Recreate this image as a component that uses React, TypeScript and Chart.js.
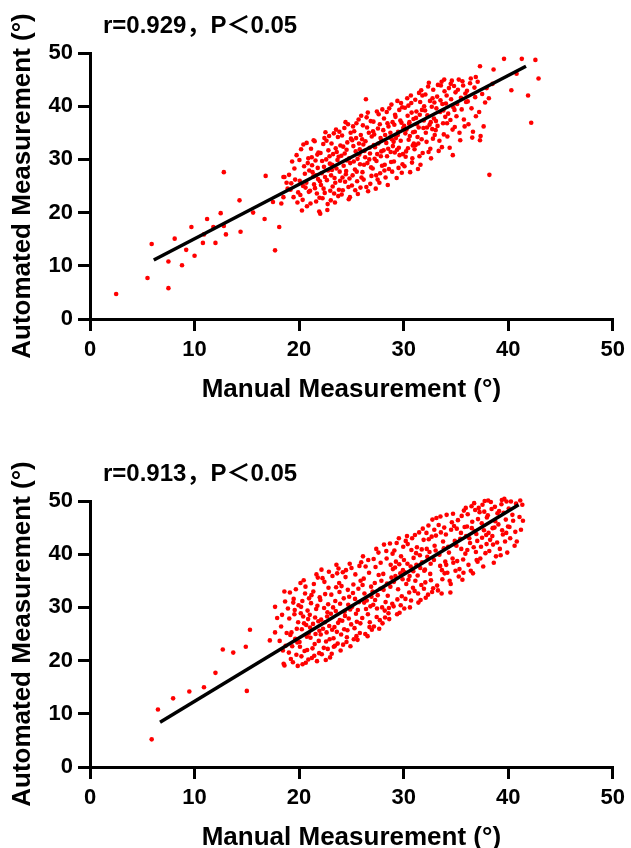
import React, { useEffect, useRef } from 'react';
import { Chart, registerables } from 'chart.js';

Chart.register(...registerables);

const FONT = "'Liberation Sans', Arial, 'Noto Sans CJK SC', sans-serif";

const xAxisTitle = 'Manual Measurement (°)';
const yAxisTitle = 'Automated Measurement (°)';
const axisMin = 0;
const axisMax = 50;
const axisStep = 10;

const labelA = 'r=0.929，P＜0.05';
const labelB = 'r=0.913，P＜0.05';

// Panel A: [manual, automated]
const sparseA: [number, number][] = [
  [2.5, 4.7], [5.5, 7.7], [5.9, 14.1], [7.5, 5.8], [7.5, 10.8], [8.1, 15.1], [8.8, 10.1], [9.2, 13.0], [9.7, 17.3], [10.0, 11.9],
  [10.8, 14.3], [10.9, 15.9], [11.2, 18.8], [11.8, 17.3], [12.0, 14.3], [12.5, 19.9], [12.8, 17.5], [13.0, 15.9], [14.3, 22.3], [14.4, 16.4],
  [15.6, 20.0], [16.7, 18.8], [17.5, 22.0], [17.7, 12.9], [18.1, 17.3], [18.3, 21.7], [18.5, 22.9], [12.8, 27.6], [16.8, 26.9], [18.5, 26.7],
  [18.6, 26.7], [18.9, 24.5], [18.8, 25.6],
];
const cloudA: [number, number][] = [
  [19.04, 27.1], [19.18, 24.3], [19.33, 29.6], [19.47, 22.9], [19.62, 26.2], [19.76, 30.8], [19.91, 23.8], [19.25, 25.5], [19.55, 28.3], [19.84, 21.9],
  [20.06, 26.0], [20.19, 31.9], [20.34, 22.4], [20.48, 28.7], [20.61, 24.7], [20.75, 21.2], [20.88, 30.2], [20.12, 23.3], [20.41, 32.8], [20.55, 27.3],
  [20.69, 25.6], [20.83, 29.3], [20.27, 20.4], [20.97, 27.9], [20.03, 29.9], [20.38, 25.0], [20.72, 33.1], [20.93, 23.9],
  [21.05, 24.1], [21.21, 30.4], [21.36, 26.8], [21.49, 33.4], [21.63, 22.1], [21.78, 28.4], [21.92, 20.2], [21.14, 32.0], [21.43, 25.3], [21.57, 29.8],
  [21.70, 23.6], [21.85, 31.3], [21.29, 27.6], [21.99, 25.9], [21.09, 21.7], [21.39, 33.6], [21.60, 27.0], [21.74, 30.9], [21.95, 22.8], [21.24, 28.9],
  [21.52, 24.6], [21.81, 26.3],
  [22.02, 19.8], [22.16, 27.4], [22.31, 32.9], [22.45, 23.7], [22.59, 30.0], [22.73, 21.6], [22.87, 34.4], [22.09, 25.2], [22.38, 28.6], [22.52, 35.1],
  [22.66, 26.1], [22.80, 31.7], [22.24, 22.7], [22.94, 29.2], [22.05, 31.2], [22.34, 24.5], [22.62, 33.5], [22.77, 27.9], [22.98, 24.1], [22.20, 29.7],
  [22.48, 26.7], [22.70, 20.5], [22.91, 30.6], [22.42, 34.0],
  [23.03, 22.3], [23.17, 29.0], [23.32, 34.9], [23.46, 25.6], [23.60, 31.4], [23.74, 23.1], [23.88, 27.7], [23.10, 33.0], [23.39, 26.5], [23.53, 35.6],
  [23.67, 29.9], [23.81, 24.3], [23.25, 31.0], [23.95, 32.6], [23.06, 27.0], [23.35, 23.6], [23.57, 28.3], [23.71, 34.2], [23.92, 26.0], [23.21, 24.9],
  [23.50, 32.1], [23.78, 30.5], [23.43, 21.9], [23.14, 28.0], [23.85, 35.2],
  [24.04, 30.7], [24.18, 24.2], [24.33, 35.9], [24.47, 27.2], [24.61, 33.2], [24.75, 22.5], [24.89, 29.3], [24.11, 34.5], [24.40, 25.8], [24.54, 31.8],
  [24.68, 36.6], [24.82, 26.4], [24.26, 28.8], [24.96, 33.9], [24.07, 23.4], [24.36, 31.1], [24.58, 29.8], [24.72, 24.8], [24.93, 35.0], [24.22, 32.4],
  [24.50, 27.8], [24.79, 30.2], [24.44, 37.0], [24.15, 26.6], [24.86, 22.9],
  [25.05, 25.1], [25.19, 32.5], [25.34, 28.1], [25.48, 36.8], [25.62, 23.5], [25.76, 30.9], [25.90, 34.6], [25.12, 27.0], [25.41, 31.5], [25.55, 25.9],
  [25.69, 37.5], [25.83, 29.1], [25.27, 35.3], [25.97, 26.6], [25.08, 33.6], [25.37, 24.2], [25.59, 30.1], [25.73, 33.0], [25.94, 38.2], [25.23, 29.6],
  [25.51, 27.7], [25.80, 31.9], [25.45, 34.0], [25.16, 36.2], [25.87, 24.7],
  [26.03, 33.8], [26.17, 26.2], [26.32, 30.4], [26.46, 37.9], [26.60, 24.0], [26.74, 32.2], [26.88, 28.5], [26.10, 36.4], [26.39, 41.3], [26.53, 29.3],
  [26.67, 35.0], [26.81, 25.4], [26.25, 31.6], [26.95, 34.3], [26.06, 27.6], [26.35, 33.4], [26.57, 38.8], [26.71, 30.0], [26.92, 26.9], [26.21, 29.0],
  [26.50, 36.0], [26.78, 31.1], [26.43, 24.8], [26.14, 32.8], [26.85, 37.2],
  [27.04, 28.3], [27.18, 34.7], [27.33, 24.5], [27.47, 31.0], [27.61, 38.5], [27.75, 27.4], [27.89, 33.6], [27.11, 37.1], [27.40, 29.7], [27.54, 35.8],
  [27.68, 25.6], [27.82, 30.6], [27.26, 32.3], [27.96, 39.4], [27.07, 35.3], [27.37, 27.0], [27.58, 33.0], [27.72, 36.6], [27.93, 28.8], [27.22, 30.1],
  [27.51, 26.2], [27.79, 34.0], [27.44, 39.0], [27.15, 32.7], [27.86, 31.5],
  [28.05, 35.5], [28.19, 29.0], [28.34, 33.1], [28.48, 25.2], [28.62, 39.6], [28.76, 31.4], [28.90, 27.7], [28.12, 37.7], [28.41, 30.6], [28.55, 36.2],
  [28.69, 34.1], [28.83, 40.3], [28.27, 26.6], [28.97, 32.5], [28.08, 31.7], [28.38, 38.9], [28.59, 28.2], [28.73, 35.0], [28.94, 37.0], [28.23, 34.6],
  [28.52, 32.0], [28.80, 29.5], [28.45, 36.8], [28.16, 27.9], [28.87, 33.8],
  [29.04, 33.3], [29.18, 38.4], [29.33, 26.5], [29.47, 35.2], [29.61, 30.8], [29.75, 40.6], [29.89, 29.1], [29.11, 36.5], [29.40, 41.0], [29.54, 32.2],
  [29.68, 37.3], [29.82, 27.5], [29.26, 34.0], [29.96, 35.9], [29.07, 29.6], [29.37, 31.8], [29.58, 39.3], [29.72, 33.5], [29.93, 31.0], [29.22, 38.0],
  [29.51, 28.4], [29.79, 36.9], [29.44, 34.6], [29.15, 31.3], [29.86, 39.8],
  [30.05, 36.3], [30.19, 30.5], [30.34, 41.5], [30.48, 33.7], [30.62, 27.6], [30.76, 38.8], [30.90, 35.1], [30.12, 39.7], [30.41, 32.1], [30.55, 37.0],
  [30.69, 42.0], [30.83, 30.2], [30.27, 35.6], [30.97, 33.0], [30.08, 28.7], [30.38, 38.2], [30.59, 34.4], [30.73, 40.6], [30.94, 37.6], [30.23, 31.5],
  [30.52, 36.7], [30.80, 29.4], [30.45, 40.1], [30.16, 34.9], [30.87, 32.6],
  [31.04, 31.9], [31.18, 37.8], [31.33, 34.2], [31.47, 42.5], [31.61, 29.0], [31.75, 39.3], [31.89, 35.9], [31.11, 41.2], [31.40, 33.0], [31.54, 38.4],
  [31.68, 43.0], [31.82, 31.2], [31.26, 36.6], [31.96, 40.0], [31.07, 35.2], [31.37, 28.2], [31.58, 40.8], [31.72, 33.8], [31.93, 37.3], [31.22, 39.0],
  [31.51, 30.6], [31.79, 42.0], [31.44, 36.0], [31.15, 32.7],
  [32.05, 39.2], [32.19, 33.3], [32.34, 43.7], [32.48, 36.5], [32.62, 30.2], [32.76, 41.5], [32.90, 37.7], [32.12, 35.0], [32.41, 44.4], [32.55, 32.0],
  [32.69, 39.9], [32.83, 43.1], [32.27, 38.3], [32.97, 34.6], [32.08, 42.2], [32.38, 31.4], [32.59, 37.0], [32.73, 35.7], [32.94, 40.7], [32.23, 36.0],
  [32.52, 41.0], [32.80, 33.9],
  [33.06, 35.5], [33.20, 41.8], [33.35, 31.6], [33.49, 38.9], [33.63, 44.6], [33.77, 36.8], [33.91, 42.8], [33.13, 39.6], [33.42, 33.5], [33.56, 43.9],
  [33.70, 40.4], [33.84, 34.7], [33.28, 44.0], [33.98, 38.0], [33.09, 37.2], [33.52, 41.1], [33.66, 32.3], [33.88, 45.0], [33.24, 36.3], [33.80, 39.2],
  [34.04, 40.5], [34.18, 34.3], [34.33, 43.4], [34.47, 37.4], [34.61, 44.8], [34.75, 39.8], [34.89, 36.1], [34.11, 42.0], [34.40, 32.2], [34.54, 41.3],
  [34.68, 35.6], [34.82, 43.8], [34.26, 38.6], [34.96, 42.6], [34.70, 30.8], [34.50, 44.2], [34.15, 36.8], [34.86, 39.3],
  [35.05, 38.1], [35.19, 43.1], [35.34, 35.0], [35.48, 41.6], [35.62, 44.7], [35.76, 37.5], [35.90, 42.4], [35.12, 40.4], [35.41, 33.6], [35.55, 39.4],
  [35.69, 43.9], [35.83, 36.2], [35.27, 45.0], [35.97, 40.8],
  [36.06, 42.9], [36.20, 36.6], [36.35, 44.3], [36.49, 39.6], [36.63, 35.2], [36.77, 43.5], [36.91, 38.1], [36.13, 40.9], [36.42, 45.2], [36.84, 41.7],
  [36.56, 34.1],
  [37.08, 44.6], [37.22, 38.9], [37.36, 34.4], [37.51, 42.3], [37.65, 36.2], [37.79, 40.7], [37.94, 43.4], [38.15, 41.5], [37.30, 33.6],
];
const outliersA: [number, number][] = [
  [37.3, 47.5], [38.6, 46.9], [39.6, 48.9], [40.5, 50.5], [41.1, 51.9], [41.3, 48.9], [42.6, 48.7], [40.8, 46.1], [42.9, 45.2], [40.3, 43.0],
  [41.9, 42.0], [42.2, 36.9], [38.2, 27.1], [36.9, 45.5], [38.5, 44.2],
];
const fitManualA = [6.1, 41.7];
const fitAutomatedA = [11.1, 47.5];

// Panel B: [manual, automated]
const sparseB: [number, number][] = [
  [5.9, 5.2], [6.5, 10.8], [7.95, 12.9], [9.5, 14.2], [10.9, 15.0], [12.0, 17.7], [12.7, 22.1], [13.7, 21.5], [14.9, 22.6], [15.0, 14.3],
  [15.3, 25.8], [17.2, 23.8], [17.7, 25.3], [17.7, 30.1], [18.6, 19.1], [17.9, 28.0],
];
const cloudB: [number, number][] = [
  [18.14, 23.7], [18.37, 28.6], [18.52, 19.4], [18.66, 31.1], [18.81, 25.2], [18.45, 21.9], [18.93, 29.8], [18.28, 26.4], [18.71, 22.8], [18.59, 33.0],
  [19.06, 27.9], [19.21, 20.3], [19.48, 31.6], [19.63, 24.1], [19.87, 19.0], [19.12, 32.8], [19.34, 22.7], [19.55, 28.7], [19.78, 26.0], [19.95, 30.4],
  [19.27, 25.3], [19.41, 19.7], [19.69, 33.4], [19.83, 23.4], [19.02, 21.5], [19.58, 29.5], [19.16, 24.8], [19.91, 27.2], [19.44, 30.9], [19.74, 21.1],
  [20.08, 22.6], [20.19, 30.1], [20.33, 19.3], [20.47, 27.0], [20.61, 33.9], [20.74, 24.5], [20.88, 20.2], [20.95, 31.7], [20.26, 25.9], [20.52, 21.8],
  [20.13, 34.6], [20.39, 28.3], [20.68, 26.7], [20.81, 29.4], [20.04, 23.5], [20.57, 32.6], [20.22, 20.8], [20.91, 25.1], [20.44, 35.1], [20.77, 22.0],
  [20.31, 31.2], [20.64, 19.6], [20.86, 27.8], [20.16, 28.9],
  [21.05, 26.2], [21.22, 20.5], [21.36, 33.0], [21.49, 23.1], [21.63, 29.7], [21.79, 35.6], [21.92, 21.4], [21.14, 30.8], [21.57, 25.0], [21.84, 27.4],
  [21.28, 22.3], [21.41, 34.4], [21.71, 19.9], [21.97, 31.9], [21.09, 24.3], [21.53, 28.1], [21.66, 36.2], [21.33, 26.9], [21.88, 23.7], [21.18, 32.3],
  [21.75, 30.3], [21.45, 20.9], [21.02, 28.6], [21.94, 25.6],
  [22.03, 31.4], [22.17, 21.2], [22.29, 26.0], [22.42, 34.8], [22.58, 23.6], [22.71, 29.1], [22.85, 36.7], [22.96, 20.6], [22.11, 27.7], [22.36, 22.4],
  [22.49, 32.5], [22.63, 25.3], [22.78, 30.6], [22.92, 24.0], [22.24, 35.5], [22.55, 20.1], [22.68, 28.3], [22.07, 24.9], [22.81, 33.7], [22.39, 29.9],
  [22.14, 37.1], [22.74, 22.2], [22.47, 27.2], [22.88, 26.5],
  [23.04, 28.8], [23.19, 35.9], [23.32, 22.6], [23.46, 31.2], [23.61, 25.4], [23.77, 37.3], [23.89, 27.6], [23.12, 21.3], [23.54, 33.8], [23.69, 23.2],
  [23.25, 30.0], [23.83, 34.6], [23.38, 26.3], [23.97, 21.9], [23.08, 32.4], [23.51, 29.3], [23.64, 36.4], [23.29, 24.2], [23.92, 30.7], [23.43, 22.8],
  [23.73, 27.1], [23.16, 25.8], [23.57, 38.0], [23.86, 32.9],
  [24.06, 34.0], [24.21, 23.0], [24.35, 29.2], [24.48, 37.0], [24.62, 25.7], [24.79, 32.0], [24.91, 22.7], [24.13, 27.5], [24.44, 35.7], [24.57, 24.4],
  [24.70, 30.5], [24.84, 38.2], [24.27, 31.7], [24.98, 26.8], [24.02, 24.9], [24.39, 28.4], [24.66, 33.3], [24.88, 29.6], [24.18, 36.6], [24.53, 23.5],
  [24.75, 27.9], [24.31, 25.9],
  [25.07, 30.1], [25.23, 24.0], [25.38, 36.2], [25.52, 27.3], [25.67, 33.5], [25.81, 25.2], [25.94, 38.5], [25.15, 32.7], [25.44, 28.8], [25.59, 23.9],
  [25.73, 31.0], [25.88, 35.0], [25.30, 26.1], [25.01, 37.4], [25.62, 29.5], [25.86, 27.0], [25.19, 34.3], [25.48, 24.6], [25.77, 37.8], [25.35, 31.6],
  [26.04, 28.0], [26.18, 35.4], [26.33, 25.0], [26.47, 31.3], [26.61, 38.9], [26.76, 27.2], [26.89, 33.9], [26.11, 39.6], [26.40, 29.7], [26.55, 24.6],
  [26.69, 36.5], [26.82, 30.2], [26.25, 32.6], [26.96, 25.8], [26.07, 34.2], [26.36, 37.7], [26.58, 28.7], [26.73, 26.3], [26.92, 32.0], [26.22, 30.9],
  [27.03, 33.0], [27.16, 26.4], [27.31, 37.6], [27.45, 29.8], [27.59, 40.3], [27.72, 27.6], [27.87, 35.0], [27.09, 30.5], [27.38, 41.0], [27.52, 32.3],
  [27.66, 26.0], [27.80, 38.4], [27.24, 34.6], [27.94, 30.0], [27.13, 39.1], [27.42, 28.2], [27.61, 36.1], [27.77, 33.5], [27.98, 27.0], [27.27, 31.4],
  [28.05, 36.3], [28.19, 29.4], [28.34, 40.6], [28.48, 32.2], [28.62, 27.8], [28.76, 38.0], [28.91, 30.7], [28.12, 41.8], [28.41, 34.5], [28.55, 28.9],
  [28.69, 42.0], [28.83, 35.6], [28.27, 31.0], [28.97, 37.2], [28.08, 33.3], [28.37, 39.2], [28.59, 29.9], [28.73, 33.9], [28.94, 40.1], [28.22, 28.1],
  [29.04, 30.2], [29.18, 37.5], [29.33, 42.1], [29.47, 33.4], [29.61, 29.0], [29.75, 39.6], [29.90, 35.3], [29.11, 40.7], [29.40, 31.5], [29.54, 43.0],
  [29.68, 36.4], [29.82, 32.1], [29.26, 38.6], [29.96, 41.4], [29.07, 34.8], [29.37, 28.7], [29.58, 38.1], [29.72, 30.4], [29.93, 37.0], [29.21, 35.9],
  [30.03, 38.9], [30.17, 31.6], [30.32, 43.4], [30.46, 35.2], [30.60, 30.0], [30.74, 40.8], [30.89, 33.7], [30.10, 36.6], [30.39, 41.9], [30.53, 32.8],
  [30.67, 37.7], [30.81, 43.0], [30.25, 34.4], [30.95, 39.3], [30.06, 29.8], [30.36, 38.2], [30.57, 35.9], [30.71, 31.3], [30.92, 36.8], [30.20, 42.5],
  [31.05, 33.1], [31.19, 40.2], [31.34, 36.0], [31.48, 44.1], [31.62, 31.4], [31.76, 38.5], [31.91, 42.7], [31.12, 35.0], [31.41, 30.9], [31.55, 39.8],
  [31.69, 34.2], [31.83, 44.8], [31.27, 41.3], [31.97, 36.9], [31.08, 43.6], [31.38, 32.6], [31.59, 37.4], [31.73, 40.9], [31.94, 33.5], [31.22, 38.0],
  [32.04, 37.1], [32.18, 44.0], [32.33, 32.4], [32.47, 40.4], [32.61, 35.1], [32.75, 46.5], [32.90, 38.9], [32.11, 31.8], [32.40, 42.8], [32.54, 36.3],
  [32.68, 43.3], [32.82, 33.6], [32.26, 39.5], [32.96, 41.6], [32.07, 34.7], [32.37, 45.4], [32.58, 38.2], [32.72, 32.9], [32.93, 44.6], [32.21, 41.0],
  [33.06, 40.7], [33.20, 34.1], [33.35, 45.5], [33.49, 37.8], [33.63, 32.6], [33.77, 42.4], [33.92, 36.4], [33.13, 46.8], [33.42, 39.9], [33.56, 44.1],
  [33.70, 35.3], [33.84, 41.1], [33.28, 33.2], [33.98, 38.6], [33.09, 43.5], [33.52, 47.1], [33.66, 37.0], [33.88, 45.0],
  [34.04, 43.7], [34.18, 36.5], [34.33, 40.3], [34.47, 32.8], [34.61, 46.0], [34.75, 38.4], [34.89, 42.5], [34.11, 47.4], [34.40, 35.0], [34.54, 44.6],
  [34.68, 39.2], [34.82, 45.3], [34.26, 41.4], [34.96, 36.9], [34.07, 38.0], [34.50, 34.4], [34.72, 47.6], [34.93, 41.8],
  [35.05, 41.6], [35.19, 46.4], [35.34, 37.2], [35.48, 44.0], [35.62, 35.2], [35.76, 48.2], [35.90, 40.1], [35.12, 38.7], [35.41, 42.9], [35.55, 47.2],
  [35.69, 39.0], [35.83, 45.1], [35.27, 35.8], [35.97, 43.4], [35.08, 44.8], [35.51, 41.0], [35.72, 36.5], [35.94, 48.7],
  [36.06, 45.2], [36.20, 38.0], [36.35, 42.1], [36.49, 49.0], [36.63, 36.4], [36.77, 44.3], [36.91, 40.4], [36.13, 47.5], [36.42, 36.9], [36.56, 46.1],
  [36.70, 41.3], [36.84, 48.3], [36.28, 43.0], [36.98, 38.9], [36.09, 40.8], [36.52, 44.9], [36.74, 49.6], [36.95, 43.8],
  [37.04, 42.5], [37.18, 48.7], [37.33, 39.2], [37.47, 45.8], [37.61, 37.7], [37.75, 50.0], [37.89, 43.6], [37.11, 46.6], [37.40, 41.4], [37.54, 49.3],
  [37.68, 44.5], [37.82, 40.2], [37.26, 47.9], [37.96, 46.9], [37.07, 38.6], [37.50, 43.1], [37.71, 48.0], [37.93, 41.9],
  [38.05, 47.3], [38.19, 40.6], [38.34, 49.8], [38.48, 43.4], [38.62, 38.4], [38.76, 46.2], [38.90, 50.5], [38.12, 44.0], [38.41, 48.5], [38.55, 41.8],
  [38.69, 45.0], [38.83, 39.6], [38.27, 42.7], [38.97, 47.7], [38.08, 50.1], [38.51, 44.9], [38.73, 48.9], [38.94, 42.2],
  [39.06, 45.6], [39.20, 41.0], [39.35, 49.4], [39.49, 43.7], [39.63, 50.4], [39.77, 46.5], [39.91, 40.3], [39.13, 48.1], [39.42, 44.5], [39.56, 47.8],
  [39.70, 42.4], [39.84, 49.9], [39.28, 39.8], [39.98, 45.2], [39.39, 50.2], [39.81, 44.0],
  [40.05, 48.6], [40.19, 43.0], [40.33, 50.9], [40.47, 46.3], [40.61, 41.6], [40.75, 49.5], [40.89, 51.3], [40.12, 45.1], [40.40, 47.4], [40.68, 44.2],
  [40.82, 42.4], [40.26, 49.9],
  [41.08, 47.0], [41.22, 44.6], [41.35, 49.3], [41.41, 46.3], [41.15, 50.1],
];
const fitManualB = [6.7, 41.0];
const fitAutomatedB = [8.4, 49.3];

const CANVAS_W = 631;
const CANVAS_H = 420;

const pairsToPoints = (...groups: [number, number][][]) =>
  groups.flat().map(([x, y]) => ({ x, y }));

const lineToPoints = (xs: number[], ys: number[]) => xs.map((x, i) => ({ x, y: ys[i] }));

const cornerLabelPlugin = {
  id: 'cornerLabel',
  afterDraw(chart: any, _args: any, opts: any) {
    const { ctx, chartArea } = chart;
    ctx.save();
    ctx.font = `bold 24px ${FONT}`;
    ctx.fillStyle = '#000';
    ctx.textAlign = 'left';
    ctx.textBaseline = 'alphabetic';
    ctx.fillText(opts.text, chartArea.left + 13, chartArea.top - 20);
    ctx.restore();
  },
};

function makeAxis(isX: boolean) {
  const tickFont = { family: FONT, size: 22, weight: 'bold' as const };
  const titleFont = { family: FONT, size: 26, weight: 'bold' as const };
  return {
    type: 'linear' as const,
    position: isX ? ('bottom' as const) : ('left' as const),
    min: axisMin,
    max: axisMax,
    ticks: {
      stepSize: axisStep,
      color: '#000',
      font: tickFont,
      padding: isX ? 6 : 5,
      maxRotation: 0,
      autoSkip: false,
    },
    grid: {
      display: true,
      drawOnChartArea: false,
      drawTicks: true,
      tickLength: 12,
      tickWidth: 3,
      tickColor: '#000',
      color: '#000',
      lineWidth: 3,
    },
    border: { display: true, color: '#000', width: 3 },
    title: {
      display: true,
      text: isX ? xAxisTitle : yAxisTitle,
      color: '#000',
      font: titleFont,
      padding: isX ? { top: 0, bottom: 15 } : { top: 7, bottom: 0 },
    },
    afterFit: (scale: any) => {
      if (isX) scale.height = CANVAS_H - 319;
      else scale.width = 90;
    },
  };
}

function Panel(props: {
  points: { x: number; y: number }[];
  fx: number[];
  fy: number[];
  label: string;
  top: number;
}) {
  const ref = useRef<HTMLCanvasElement>(null);
  useEffect(() => {
    if (!ref.current) return;
    const chart = new Chart(ref.current, {
      type: 'scatter',
      data: {
        datasets: [
          {
            type: 'line',
            data: lineToPoints(props.fx, props.fy),
            borderColor: '#000',
            borderWidth: 3.5,
            pointRadius: 0,
            fill: false,
            showLine: true,
            order: 0,
          } as any,
          {
            type: 'scatter',
            data: props.points,
            backgroundColor: '#ff0000',
            borderWidth: 0,
            pointRadius: 2.3,
            pointHoverRadius: 2.3,
            clip: false,
            order: 1,
          } as any,
        ],
      },
      options: {
        responsive: false,
        animation: false,
        devicePixelRatio: 1,
        layout: { padding: { top: 53, right: 17, bottom: 0, left: 0 } },
        plugins: {
          legend: { display: false },
          tooltip: { enabled: false },
          cornerLabel: { text: props.label },
        } as any,
        scales: {
          x: makeAxis(true),
          y: makeAxis(false),
        } as any,
      },
      plugins: [cornerLabelPlugin],
    });
    return () => chart.destroy();
  }, []);
  return (
    <div style={{ position: 'absolute', left: 0, top: props.top, width: CANVAS_W, height: CANVAS_H }}>
      <canvas ref={ref} width={CANVAS_W} height={CANVAS_H} style={{ display: 'block', width: CANVAS_W, height: CANVAS_H }} />
    </div>
  );
}

export default function App() {
  return (
    <div
      style={{
        position: 'fixed',
        left: 0,
        top: 0,
        width: 631,
        height: 848,
        overflow: 'hidden',
        background: '#fff',
      }}
    >
      <Panel points={pairsToPoints(sparseA, cloudA, outliersA)} fx={fitManualA} fy={fitAutomatedA} label={labelA} top={0} />
      <Panel points={pairsToPoints(sparseB, cloudB)} fx={fitManualB} fy={fitAutomatedB} label={labelB} top={448} />
    </div>
  );
}
